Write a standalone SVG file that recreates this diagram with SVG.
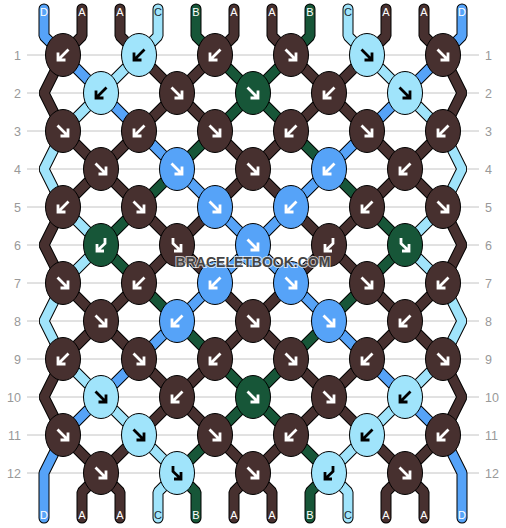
<svg xmlns="http://www.w3.org/2000/svg" xmlns:xlink="http://www.w3.org/1999/xlink" width="506" height="528" viewBox="0 0 506 528">
<style>
.grid line{stroke:#c4c4c4;stroke-width:1}
.num{font-family:"Liberation Sans",Arial,sans-serif;font-size:12.5px;fill:#999}
.lbl{font-family:"Liberation Sans",Arial,sans-serif;font-size:11px;fill:#fff;text-anchor:middle}
.lbl.dk{fill:#1c2a30}
.o{fill:none;stroke:#000;stroke-width:11;stroke-linecap:round;stroke-linejoin:bevel}
.s{fill:none;stroke-width:9;stroke-linecap:round;stroke-linejoin:bevel}
.cA{stroke:#47302f}.cB{stroke:#175638}.cC{stroke:#a0e4fb}.cD{stroke:#56a3f8}
.k{stroke:#000;stroke-width:1}
.fA{fill:#47302f}.fB{fill:#175638}.fC{fill:#a0e4fb}.fD{fill:#56a3f8}
.aw{fill:none;stroke:#fff;stroke-width:2.8}
.ak{fill:none;stroke:#000;stroke-width:2.8}
.wm{font-family:"Liberation Sans",Arial,sans-serif;font-size:14px;font-weight:bold;fill:#444;text-anchor:middle;stroke:#fff;stroke-width:2;stroke-opacity:0.7;paint-order:stroke}
</style>
<defs>
<path id="se" d="M-5.5,-5.5 L5,5 M5,-2.5 V5 H-2.5"/>
<path id="sw" d="M5.5,-5.5 L-5,5 M-5,-2.5 V5 H2.5"/>
<path id="fb" d="M-4,-7 V-1.5 L4,6 M4,-1 V6 H-3"/>
<path id="bf" d="M4,-7 V-1.5 L-4,6 M-4,-1 V6 H3"/>
</defs>
<g class="grid">
<line x1="27" y1="55" x2="479" y2="55"/><line x1="27" y1="93" x2="479" y2="93"/><line x1="27" y1="131" x2="479" y2="131"/><line x1="27" y1="169" x2="479" y2="169"/><line x1="27" y1="207" x2="479" y2="207"/><line x1="27" y1="245" x2="479" y2="245"/><line x1="27" y1="283" x2="479" y2="283"/><line x1="27" y1="321" x2="479" y2="321"/><line x1="27" y1="359" x2="479" y2="359"/><line x1="27" y1="397" x2="479" y2="397"/><line x1="27" y1="435" x2="479" y2="435"/><line x1="27" y1="473" x2="479" y2="473"/>
</g>
<g class="num" text-anchor="end">
<text x="21" y="59.5">1</text><text x="21" y="97.5">2</text><text x="21" y="135.5">3</text><text x="21" y="173.5">4</text><text x="21" y="211.5">5</text><text x="21" y="249.5">6</text><text x="21" y="287.5">7</text><text x="21" y="325.5">8</text><text x="21" y="363.5">9</text><text x="21" y="401.5">10</text><text x="21" y="439.5">11</text><text x="21" y="477.5">12</text>
</g>
<g class="num">
<text x="485" y="59.5">1</text><text x="485" y="97.5">2</text><text x="485" y="135.5">3</text><text x="485" y="173.5">4</text><text x="485" y="211.5">5</text><text x="485" y="249.5">6</text><text x="485" y="287.5">7</text><text x="485" y="325.5">8</text><text x="485" y="363.5">9</text><text x="485" y="401.5">10</text><text x="485" y="439.5">11</text><text x="485" y="477.5">12</text>
</g>
<g id="strings">
<g class="o">
<path d="M44,9 V36 L63,55 L101,93 L139,131 L177,169 L215,207 L253,245 L291,283 L329,321 L367,359 L405,397 L443,435 L462,473 V518"/>
<path d="M82,9 V36 L63,55 L44,93 L63,131 L101,169 L139,207 L177,245 L139,283 L101,321 L63,359 L44,397 L63,435 L101,473 L120,492 V518"/>
<path d="M120,9 V36 L139,55 L177,93 L215,131 L253,169 L291,207 L329,245 L291,283 L253,321 L215,359 L177,397 L139,435 L101,473 L82,492 V518"/>
<path d="M158,9 V36 L139,55 L101,93 L63,131 L44,169 L63,207 L101,245 L63,283 L44,321 L63,359 L101,397 L139,435 L177,473 L158,492 V518"/>
<path d="M196,9 V36 L215,55 L253,93 L291,131 L329,169 L367,207 L405,245 L367,283 L329,321 L291,359 L253,397 L215,435 L177,473 L196,492 V518"/>
<path d="M234,9 V36 L215,55 L177,93 L139,131 L101,169 L63,207 L44,245 L63,283 L101,321 L139,359 L177,397 L215,435 L253,473 L272,492 V518"/>
<path d="M272,9 V36 L291,55 L329,93 L367,131 L405,169 L443,207 L462,245 L443,283 L405,321 L367,359 L329,397 L291,435 L253,473 L234,492 V518"/>
<path d="M310,9 V36 L291,55 L253,93 L215,131 L177,169 L139,207 L101,245 L139,283 L177,321 L215,359 L253,397 L291,435 L329,473 L310,492 V518"/>
<path d="M348,9 V36 L367,55 L405,93 L443,131 L462,169 L443,207 L405,245 L443,283 L462,321 L443,359 L405,397 L367,435 L329,473 L348,492 V518"/>
<path d="M386,9 V36 L367,55 L329,93 L291,131 L253,169 L215,207 L177,245 L215,283 L253,321 L291,359 L329,397 L367,435 L405,473 L424,492 V518"/>
<path d="M424,9 V36 L443,55 L462,93 L443,131 L405,169 L367,207 L329,245 L367,283 L405,321 L443,359 L462,397 L443,435 L405,473 L386,492 V518"/>
<path d="M462,9 V36 L443,55 L405,93 L367,131 L329,169 L291,207 L253,245 L215,283 L177,321 L139,359 L101,397 L63,435 L44,473 V518"/>
</g>
<g class="s">
<path class="cD" d="M44,9 V36 L63,55 L101,93 L139,131 L177,169 L215,207 L253,245 L291,283 L329,321 L367,359 L405,397 L443,435 L462,473 V518"/>
<path class="cA" d="M82,9 V36 L63,55 L44,93 L63,131 L101,169 L139,207 L177,245 L139,283 L101,321 L63,359 L44,397 L63,435 L101,473 L120,492 V518"/>
<path class="cA" d="M120,9 V36 L139,55 L177,93 L215,131 L253,169 L291,207 L329,245 L291,283 L253,321 L215,359 L177,397 L139,435 L101,473 L82,492 V518"/>
<path class="cC" d="M158,9 V36 L139,55 L101,93 L63,131 L44,169 L63,207 L101,245 L63,283 L44,321 L63,359 L101,397 L139,435 L177,473 L158,492 V518"/>
<path class="cB" d="M196,9 V36 L215,55 L253,93 L291,131 L329,169 L367,207 L405,245 L367,283 L329,321 L291,359 L253,397 L215,435 L177,473 L196,492 V518"/>
<path class="cA" d="M234,9 V36 L215,55 L177,93 L139,131 L101,169 L63,207 L44,245 L63,283 L101,321 L139,359 L177,397 L215,435 L253,473 L272,492 V518"/>
<path class="cA" d="M272,9 V36 L291,55 L329,93 L367,131 L405,169 L443,207 L462,245 L443,283 L405,321 L367,359 L329,397 L291,435 L253,473 L234,492 V518"/>
<path class="cB" d="M310,9 V36 L291,55 L253,93 L215,131 L177,169 L139,207 L101,245 L139,283 L177,321 L215,359 L253,397 L291,435 L329,473 L310,492 V518"/>
<path class="cC" d="M348,9 V36 L367,55 L405,93 L443,131 L462,169 L443,207 L405,245 L443,283 L462,321 L443,359 L405,397 L367,435 L329,473 L348,492 V518"/>
<path class="cA" d="M386,9 V36 L367,55 L329,93 L291,131 L253,169 L215,207 L177,245 L215,283 L253,321 L291,359 L329,397 L367,435 L405,473 L424,492 V518"/>
<path class="cA" d="M424,9 V36 L443,55 L462,93 L443,131 L405,169 L367,207 L329,245 L367,283 L405,321 L443,359 L462,397 L443,435 L405,473 L386,492 V518"/>
<path class="cD" d="M462,9 V36 L443,55 L405,93 L367,131 L329,169 L291,207 L253,245 L215,283 L177,321 L139,359 L101,397 L63,435 L44,473 V518"/>
</g>
</g>
<g id="labels-top">
<text class="lbl" x="44" y="16">D</text><text class="lbl" x="82" y="16">A</text><text class="lbl" x="120" y="16">A</text><text class="lbl dk" x="158" y="16">C</text><text class="lbl" x="196" y="16">B</text><text class="lbl" x="234" y="16">A</text><text class="lbl" x="272" y="16">A</text><text class="lbl" x="310" y="16">B</text><text class="lbl dk" x="348" y="16">C</text><text class="lbl" x="386" y="16">A</text><text class="lbl" x="424" y="16">A</text><text class="lbl" x="462" y="16">D</text>
</g>
<g id="labels-bottom">
<text class="lbl" x="44" y="519">D</text><text class="lbl" x="82" y="519">A</text><text class="lbl" x="120" y="519">A</text><text class="lbl dk" x="158" y="519">C</text><text class="lbl" x="196" y="519">B</text><text class="lbl" x="234" y="519">A</text><text class="lbl" x="272" y="519">A</text><text class="lbl" x="310" y="519">B</text><text class="lbl dk" x="348" y="519">C</text><text class="lbl" x="386" y="519">A</text><text class="lbl" x="424" y="519">A</text><text class="lbl" x="462" y="519">D</text>
</g>
<g id="knots">
<g id="k1-1" transform="translate(63,55)"><ellipse class="k fA" rx="17.5" ry="21.5"/><use href="#sw" class="aw"/></g>
<g id="k1-2" transform="translate(139,55)"><ellipse class="k fC" rx="17.5" ry="21.5"/><use href="#sw" class="ak"/></g>
<g id="k1-3" transform="translate(215,55)"><ellipse class="k fA" rx="17.5" ry="21.5"/><use href="#sw" class="aw"/></g>
<g id="k1-4" transform="translate(291,55)"><ellipse class="k fA" rx="17.5" ry="21.5"/><use href="#se" class="aw"/></g>
<g id="k1-5" transform="translate(367,55)"><ellipse class="k fC" rx="17.5" ry="21.5"/><use href="#se" class="ak"/></g>
<g id="k1-6" transform="translate(443,55)"><ellipse class="k fA" rx="17.5" ry="21.5"/><use href="#se" class="aw"/></g>

<g id="k2-1" transform="translate(101,93)"><ellipse class="k fC" rx="17.5" ry="21.5"/><use href="#sw" class="ak"/></g>
<g id="k2-2" transform="translate(177,93)"><ellipse class="k fA" rx="17.5" ry="21.5"/><use href="#se" class="aw"/></g>
<g id="k2-3" transform="translate(253,93)"><ellipse class="k fB" rx="17.5" ry="21.5"/><use href="#se" class="aw"/></g>
<g id="k2-4" transform="translate(329,93)"><ellipse class="k fA" rx="17.5" ry="21.5"/><use href="#sw" class="aw"/></g>
<g id="k2-5" transform="translate(405,93)"><ellipse class="k fC" rx="17.5" ry="21.5"/><use href="#se" class="ak"/></g>

<g id="k3-1" transform="translate(63,131)"><ellipse class="k fA" rx="17.5" ry="21.5"/><use href="#se" class="aw"/></g>
<g id="k3-2" transform="translate(139,131)"><ellipse class="k fA" rx="17.5" ry="21.5"/><use href="#sw" class="aw"/></g>
<g id="k3-3" transform="translate(215,131)"><ellipse class="k fA" rx="17.5" ry="21.5"/><use href="#se" class="aw"/></g>
<g id="k3-4" transform="translate(291,131)"><ellipse class="k fA" rx="17.5" ry="21.5"/><use href="#sw" class="aw"/></g>
<g id="k3-5" transform="translate(367,131)"><ellipse class="k fA" rx="17.5" ry="21.5"/><use href="#se" class="aw"/></g>
<g id="k3-6" transform="translate(443,131)"><ellipse class="k fA" rx="17.5" ry="21.5"/><use href="#sw" class="aw"/></g>

<g id="k4-1" transform="translate(101,169)"><ellipse class="k fA" rx="17.5" ry="21.5"/><use href="#se" class="aw"/></g>
<g id="k4-2" transform="translate(177,169)"><ellipse class="k fD" rx="17.5" ry="21.5"/><use href="#se" class="aw"/></g>
<g id="k4-3" transform="translate(253,169)"><ellipse class="k fA" rx="17.5" ry="21.5"/><use href="#se" class="aw"/></g>
<g id="k4-4" transform="translate(329,169)"><ellipse class="k fD" rx="17.5" ry="21.5"/><use href="#sw" class="aw"/></g>
<g id="k4-5" transform="translate(405,169)"><ellipse class="k fA" rx="17.5" ry="21.5"/><use href="#sw" class="aw"/></g>

<g id="k5-1" transform="translate(63,207)"><ellipse class="k fA" rx="17.5" ry="21.5"/><use href="#sw" class="aw"/></g>
<g id="k5-2" transform="translate(139,207)"><ellipse class="k fA" rx="17.5" ry="21.5"/><use href="#se" class="aw"/></g>
<g id="k5-3" transform="translate(215,207)"><ellipse class="k fD" rx="17.5" ry="21.5"/><use href="#se" class="aw"/></g>
<g id="k5-4" transform="translate(291,207)"><ellipse class="k fD" rx="17.5" ry="21.5"/><use href="#sw" class="aw"/></g>
<g id="k5-5" transform="translate(367,207)"><ellipse class="k fA" rx="17.5" ry="21.5"/><use href="#sw" class="aw"/></g>
<g id="k5-6" transform="translate(443,207)"><ellipse class="k fA" rx="17.5" ry="21.5"/><use href="#se" class="aw"/></g>

<g id="k6-1" transform="translate(101,245)"><ellipse class="k fB" rx="17.5" ry="21.5"/><use href="#bf" class="aw"/></g>
<g id="k6-2" transform="translate(177,245)"><ellipse class="k fA" rx="17.5" ry="21.5"/><use href="#fb" class="aw"/></g>
<g id="k6-3" transform="translate(253,245)"><ellipse class="k fD" rx="17.5" ry="21.5"/><use href="#se" class="aw"/></g>
<g id="k6-4" transform="translate(329,245)"><ellipse class="k fA" rx="17.5" ry="21.5"/><use href="#bf" class="aw"/></g>
<g id="k6-5" transform="translate(405,245)"><ellipse class="k fB" rx="17.5" ry="21.5"/><use href="#fb" class="aw"/></g>

<g id="k7-1" transform="translate(63,283)"><ellipse class="k fA" rx="17.5" ry="21.5"/><use href="#se" class="aw"/></g>
<g id="k7-2" transform="translate(139,283)"><ellipse class="k fA" rx="17.5" ry="21.5"/><use href="#sw" class="aw"/></g>
<g id="k7-3" transform="translate(215,283)"><ellipse class="k fD" rx="17.5" ry="21.5"/><use href="#sw" class="aw"/></g>
<g id="k7-4" transform="translate(291,283)"><ellipse class="k fD" rx="17.5" ry="21.5"/><use href="#se" class="aw"/></g>
<g id="k7-5" transform="translate(367,283)"><ellipse class="k fA" rx="17.5" ry="21.5"/><use href="#se" class="aw"/></g>
<g id="k7-6" transform="translate(443,283)"><ellipse class="k fA" rx="17.5" ry="21.5"/><use href="#sw" class="aw"/></g>

<g id="k8-1" transform="translate(101,321)"><ellipse class="k fA" rx="17.5" ry="21.5"/><use href="#se" class="aw"/></g>
<g id="k8-2" transform="translate(177,321)"><ellipse class="k fD" rx="17.5" ry="21.5"/><use href="#sw" class="aw"/></g>
<g id="k8-3" transform="translate(253,321)"><ellipse class="k fA" rx="17.5" ry="21.5"/><use href="#se" class="aw"/></g>
<g id="k8-4" transform="translate(329,321)"><ellipse class="k fD" rx="17.5" ry="21.5"/><use href="#se" class="aw"/></g>
<g id="k8-5" transform="translate(405,321)"><ellipse class="k fA" rx="17.5" ry="21.5"/><use href="#sw" class="aw"/></g>

<g id="k9-1" transform="translate(63,359)"><ellipse class="k fA" rx="17.5" ry="21.5"/><use href="#sw" class="aw"/></g>
<g id="k9-2" transform="translate(139,359)"><ellipse class="k fA" rx="17.5" ry="21.5"/><use href="#se" class="aw"/></g>
<g id="k9-3" transform="translate(215,359)"><ellipse class="k fA" rx="17.5" ry="21.5"/><use href="#sw" class="aw"/></g>
<g id="k9-4" transform="translate(291,359)"><ellipse class="k fA" rx="17.5" ry="21.5"/><use href="#se" class="aw"/></g>
<g id="k9-5" transform="translate(367,359)"><ellipse class="k fA" rx="17.5" ry="21.5"/><use href="#sw" class="aw"/></g>
<g id="k9-6" transform="translate(443,359)"><ellipse class="k fA" rx="17.5" ry="21.5"/><use href="#se" class="aw"/></g>

<g id="k10-1" transform="translate(101,397)"><ellipse class="k fC" rx="17.5" ry="21.5"/><use href="#se" class="ak"/></g>
<g id="k10-2" transform="translate(177,397)"><ellipse class="k fA" rx="17.5" ry="21.5"/><use href="#sw" class="aw"/></g>
<g id="k10-3" transform="translate(253,397)"><ellipse class="k fB" rx="17.5" ry="21.5"/><use href="#se" class="aw"/></g>
<g id="k10-4" transform="translate(329,397)"><ellipse class="k fA" rx="17.5" ry="21.5"/><use href="#se" class="aw"/></g>
<g id="k10-5" transform="translate(405,397)"><ellipse class="k fC" rx="17.5" ry="21.5"/><use href="#sw" class="ak"/></g>

<g id="k11-1" transform="translate(63,435)"><ellipse class="k fA" rx="17.5" ry="21.5"/><use href="#se" class="aw"/></g>
<g id="k11-2" transform="translate(139,435)"><ellipse class="k fC" rx="17.5" ry="21.5"/><use href="#se" class="ak"/></g>
<g id="k11-3" transform="translate(215,435)"><ellipse class="k fA" rx="17.5" ry="21.5"/><use href="#se" class="aw"/></g>
<g id="k11-4" transform="translate(291,435)"><ellipse class="k fA" rx="17.5" ry="21.5"/><use href="#sw" class="aw"/></g>
<g id="k11-5" transform="translate(367,435)"><ellipse class="k fC" rx="17.5" ry="21.5"/><use href="#sw" class="ak"/></g>
<g id="k11-6" transform="translate(443,435)"><ellipse class="k fA" rx="17.5" ry="21.5"/><use href="#sw" class="aw"/></g>

<g id="k12-1" transform="translate(101,473)"><ellipse class="k fA" rx="17.5" ry="21.5"/><use href="#se" class="aw"/></g>
<g id="k12-2" transform="translate(177,473)"><ellipse class="k fC" rx="17.5" ry="21.5"/><use href="#fb" class="ak"/></g>
<g id="k12-3" transform="translate(253,473)"><ellipse class="k fA" rx="17.5" ry="21.5"/><use href="#se" class="aw"/></g>
<g id="k12-4" transform="translate(329,473)"><ellipse class="k fC" rx="17.5" ry="21.5"/><use href="#bf" class="ak"/></g>
<g id="k12-5" transform="translate(405,473)"><ellipse class="k fA" rx="17.5" ry="21.5"/><use href="#se" class="aw"/></g>
</g>
<text class="wm" x="253" y="267">BRACELETBOOK.COM</text>
</svg>
